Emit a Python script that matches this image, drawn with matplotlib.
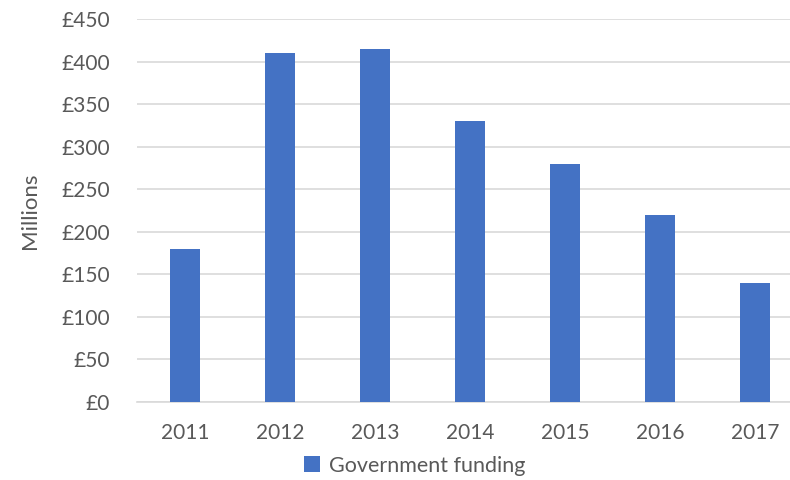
import matplotlib.pyplot as plt
from matplotlib.ticker import FuncFormatter

years = ['2011', '2012', '2013', '2014', '2015', '2016', '2017']
funding = [180, 410, 415, 330, 280, 220, 140]

plt.rcParams['font.family'] = ['Lato', 'DejaVu Sans']
grey = '#595959'
blue = '#4472C4'

fig = plt.figure(figsize=(7.9, 4.8), dpi=100)
# plot area runs a little past the right edge, as in the original
ax = fig.add_axes([0.174, 0.1625, 0.842, 0.798])

x = range(len(years))
ax.bar(x, funding, width=0.32, color=blue, label='Government funding', zorder=3)

ax.set_xlim(-0.5, len(years) - 0.5)
ax.set_ylim(0, 450)
ax.set_yticks(range(0, 451, 50))
ax.yaxis.set_major_formatter(FuncFormatter(lambda v, p: '£%d' % v))
ax.set_xticks(list(x))
ax.set_xticklabels(years)

ax.grid(axis='y', color='#d9d9d9', linewidth=1.2, zorder=0)
for s in ['top', 'right', 'left']:
    ax.spines[s].set_visible(False)
ax.spines['bottom'].set_color('#d9d9d9')
ax.spines['bottom'].set_linewidth(1.2)
ax.tick_params(length=0, labelsize=15, colors=grey)
ax.tick_params(axis='x', pad=15)
ax.tick_params(axis='y', pad=20)

fig.text(0.038, 0.56, 'Millions', rotation=90, ha='center', va='center',
         fontsize=16, color=grey)

fig.legend(loc='center', bbox_to_anchor=(0.525, 0.03), frameon=False,
           fontsize=15.5, handlelength=0.75, handleheight=0.75, handletextpad=0.4,
           labelcolor=grey)

fig.savefig('out.png', dpi=100)
